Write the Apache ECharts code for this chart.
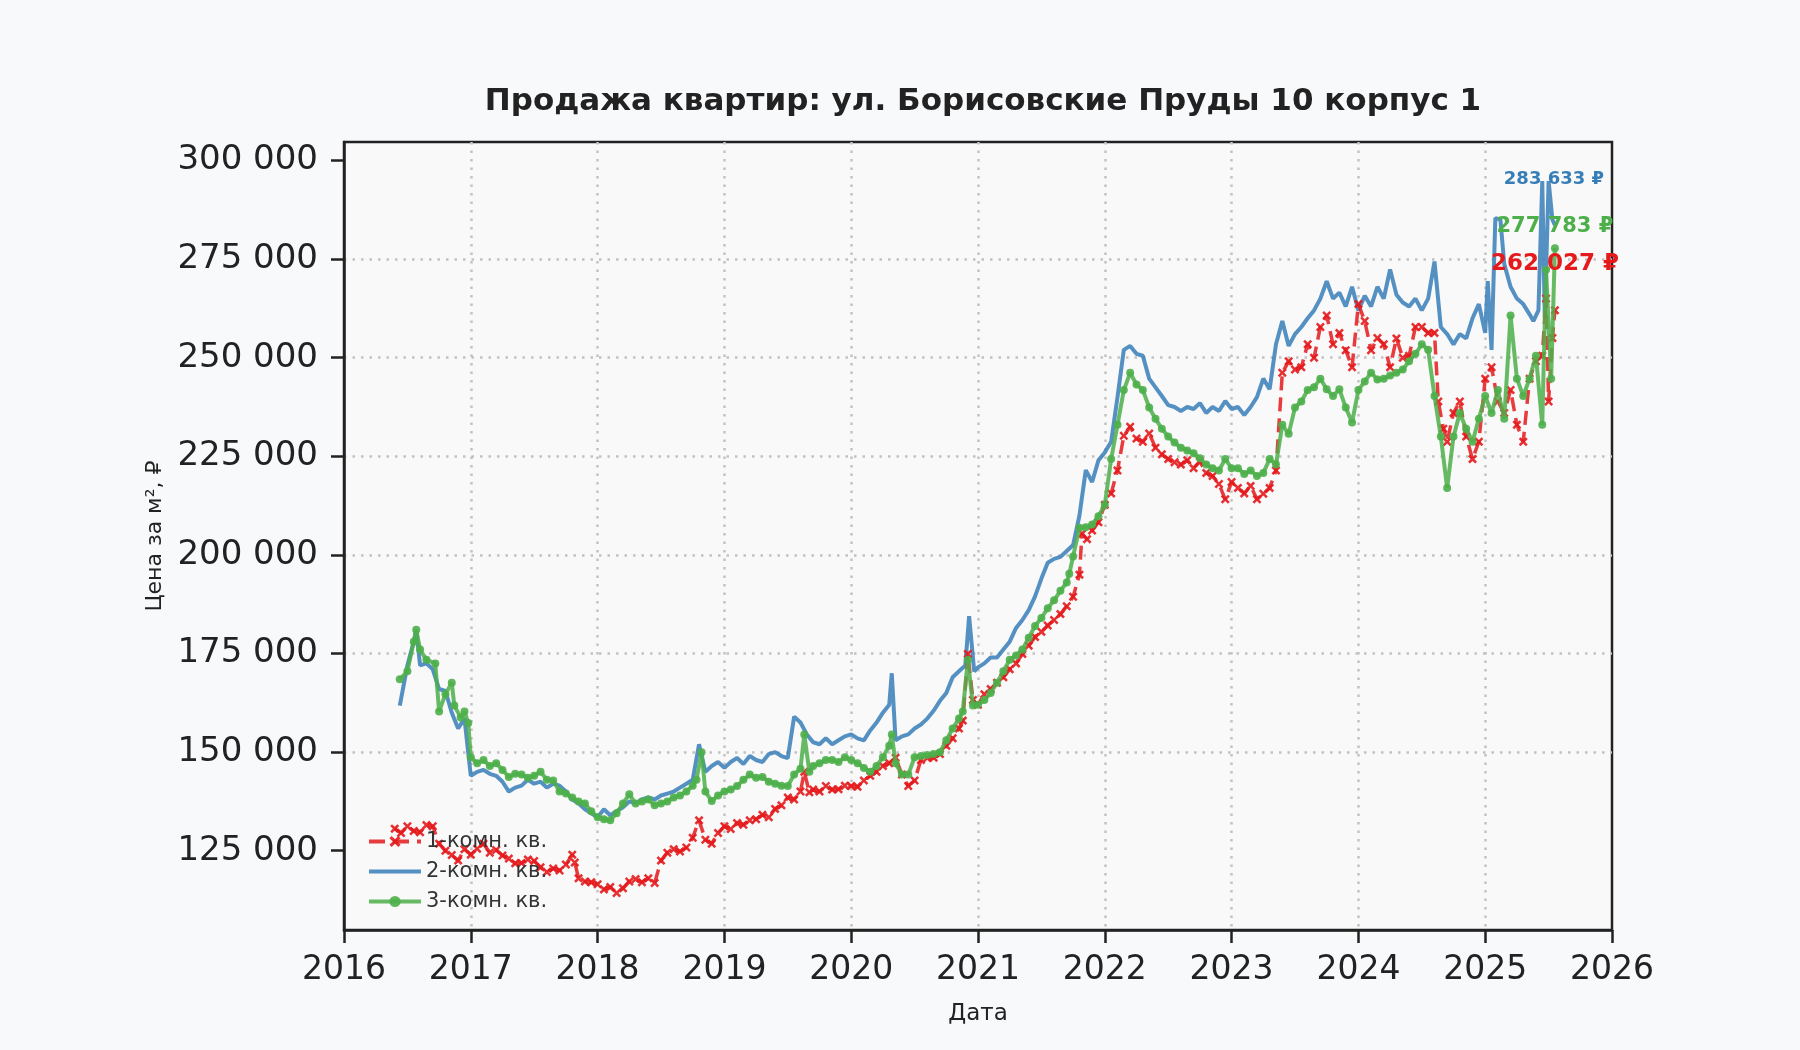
<!DOCTYPE html>
<html>
<head>
<meta charset="utf-8">
<script src="https://cdn.jsdelivr.net/npm/echarts@6/dist/echarts.min.js"></script>
<style>
  html, body { margin: 0; padding: 0; background: #f8f9fb; }
  #chart { width: 1800px; height: 1050px; }
</style>
</head>
<body>
<div id="chart"></div>
<script>
// [год, цена за м² в тыс. ₽]
const room1 = [
  [2016.40,130.6],[2016.45,129.5],[2016.50,131.2],[2016.55,130.0],[2016.60,129.7],[2016.65,131.5],[2016.70,131.2],
  [2016.75,126.8],[2016.80,125.0],[2016.85,123.9],[2016.90,122.5],[2016.95,125.4],[2017.00,124.0],[2017.05,125.5],
  [2017.10,126.8],[2017.15,124.5],[2017.20,125.2],[2017.25,123.8],[2017.30,123.0],[2017.35,121.8],[2017.40,121.9],
  [2017.45,122.8],[2017.50,122.4],[2017.55,120.8],[2017.60,119.6],[2017.65,120.5],[2017.70,120.0],[2017.75,121.5],
  [2017.80,124.0],[2017.82,122.0],[2017.85,118.0],[2017.90,117.2],[2017.95,117.0],[2018.00,116.5],[2018.05,115.2],
  [2018.10,115.8],[2018.15,114.3],[2018.20,115.5],[2018.25,117.2],[2018.30,117.8],[2018.35,117.0],[2018.40,118.0],
  [2018.45,116.8],[2018.50,122.5],[2018.55,124.5],[2018.60,125.4],[2018.65,124.8],[2018.70,125.8],[2018.75,128.3],
  [2018.80,132.7],[2018.85,127.8],[2018.90,126.8],[2018.95,129.5],[2019.00,131.2],[2019.05,130.5],[2019.10,132.0],
  [2019.15,131.6],[2019.20,132.7],[2019.25,133.0],[2019.30,134.1],[2019.35,133.5],[2019.40,135.6],[2019.45,136.5],
  [2019.50,138.5],[2019.55,138.0],[2019.60,140.0],[2019.63,145.0],[2019.67,139.8],[2019.70,140.5],[2019.75,140.0],
  [2019.80,141.4],[2019.85,140.5],[2019.90,140.6],[2019.95,141.5],[2020.00,141.4],[2020.05,141.2],[2020.10,142.8],
  [2020.15,144.0],[2020.20,145.0],[2020.25,146.5],[2020.30,147.2],[2020.35,148.6],[2020.40,144.3],[2020.45,141.4],
  [2020.50,142.8],[2020.55,148.0],[2020.60,148.5],[2020.65,148.6],[2020.70,149.5],[2020.75,151.6],[2020.80,153.5],
  [2020.85,156.0],[2020.88,158.0],[2020.92,174.9],[2020.96,163.2],[2021.00,162.0],[2021.05,164.7],[2021.10,166.0],
  [2021.15,167.6],[2021.20,169.0],[2021.25,171.0],[2021.30,172.5],[2021.35,174.9],[2021.40,177.0],[2021.45,179.2],
  [2021.50,180.5],[2021.55,182.1],[2021.60,183.5],[2021.65,185.0],[2021.70,187.0],[2021.75,189.4],[2021.80,195.0],
  [2021.82,205.4],[2021.86,204.0],[2021.90,206.2],[2021.95,208.3],[2022.00,212.7],[2022.05,215.6],[2022.10,221.4],
  [2022.15,230.2],[2022.20,232.5],[2022.25,229.5],[2022.30,228.7],[2022.35,230.8],[2022.40,227.2],[2022.45,225.5],
  [2022.50,224.3],[2022.55,223.5],[2022.60,222.9],[2022.65,224.0],[2022.70,222.0],[2022.75,223.7],[2022.80,220.8],
  [2022.85,220.0],[2022.90,218.0],[2022.95,214.1],[2023.00,218.5],[2023.05,217.0],[2023.10,215.6],[2023.15,217.5],
  [2023.20,214.1],[2023.25,215.5],[2023.30,217.0],[2023.35,221.4],[2023.40,246.2],[2023.45,249.1],[2023.50,247.0],
  [2023.55,247.6],[2023.60,253.4],[2023.65,250.0],[2023.70,257.8],[2023.75,260.7],[2023.80,253.4],[2023.85,256.3],
  [2023.90,251.9],[2023.95,247.6],[2024.00,263.6],[2024.05,259.3],[2024.10,251.9],[2024.15,255.0],[2024.20,253.4],
  [2024.25,247.6],[2024.30,254.9],[2024.35,250.0],[2024.40,250.5],[2024.45,257.8],[2024.50,257.8],[2024.55,256.3],
  [2024.60,256.3],[2024.63,238.9],[2024.67,232.0],[2024.70,228.7],[2024.75,236.0],[2024.80,238.9],[2024.85,230.0],
  [2024.90,224.3],[2024.95,228.7],[2025.00,244.7],[2025.05,247.6],[2025.10,238.9],[2025.15,236.0],[2025.20,241.8],
  [2025.25,233.0],[2025.30,228.7],[2025.35,244.7],[2025.40,249.1],[2025.45,250.5],[2025.48,265.0],[2025.50,238.9],
  [2025.53,255.0],[2025.55,262.027]
];

const room2 = [
  [2016.44,161.8],[2016.50,172.0],[2016.55,178.0],[2016.57,181.0],[2016.60,172.0],[2016.65,172.5],[2016.70,171.0],
  [2016.75,166.0],[2016.80,165.5],[2016.85,160.0],[2016.90,156.0],[2016.95,158.5],[2017.00,144.0],[2017.05,145.0],
  [2017.10,145.5],[2017.15,144.5],[2017.20,144.0],[2017.25,142.5],[2017.30,140.0],[2017.35,141.0],[2017.40,141.5],
  [2017.45,143.0],[2017.50,142.0],[2017.55,142.5],[2017.60,141.0],[2017.65,142.0],[2017.70,141.5],[2017.75,140.0],
  [2017.80,138.0],[2017.85,137.0],[2017.90,135.5],[2017.95,134.5],[2018.00,133.5],[2018.05,135.5],[2018.10,134.0],
  [2018.15,135.0],[2018.20,136.0],[2018.25,137.5],[2018.30,137.0],[2018.35,138.0],[2018.40,138.5],[2018.45,138.0],
  [2018.50,139.0],[2018.55,139.5],[2018.60,140.0],[2018.65,141.0],[2018.70,142.0],[2018.75,143.0],[2018.80,152.0],
  [2018.85,145.0],[2018.90,146.5],[2018.95,147.5],[2019.00,146.0],[2019.05,147.5],[2019.10,148.5],[2019.15,147.0],
  [2019.20,149.0],[2019.25,148.0],[2019.30,147.5],[2019.35,149.5],[2019.40,150.0],[2019.45,149.0],[2019.50,148.5],
  [2019.55,159.0],[2019.60,157.5],[2019.65,154.5],[2019.70,152.5],[2019.75,152.0],[2019.80,153.5],[2019.85,152.0],
  [2019.90,153.0],[2019.95,154.0],[2020.00,154.5],[2020.05,153.5],[2020.10,153.0],[2020.15,155.5],[2020.20,157.5],
  [2020.25,160.0],[2020.30,162.0],[2020.32,170.0],[2020.35,153.0],[2020.40,154.0],[2020.45,154.5],[2020.50,156.0],
  [2020.55,157.0],[2020.60,158.5],[2020.65,160.5],[2020.70,163.0],[2020.75,165.0],[2020.80,169.0],[2020.85,170.5],
  [2020.90,172.0],[2020.93,184.5],[2020.97,170.5],[2021.00,171.5],[2021.05,172.5],[2021.10,174.0],[2021.15,174.0],
  [2021.20,176.0],[2021.25,178.0],[2021.30,181.5],[2021.35,183.5],[2021.40,186.0],[2021.45,189.5],[2021.50,194.0],
  [2021.55,198.0],[2021.60,199.0],[2021.65,199.5],[2021.70,201.0],[2021.75,202.5],[2021.80,210.0],[2021.85,221.5],
  [2021.90,218.5],[2021.95,224.0],[2022.00,226.0],[2022.05,228.7],[2022.10,240.0],[2022.15,252.0],[2022.20,253.0],
  [2022.25,251.0],[2022.30,250.5],[2022.35,244.7],[2022.40,242.5],[2022.45,240.3],[2022.50,238.0],[2022.55,237.5],
  [2022.60,236.5],[2022.65,237.5],[2022.70,237.0],[2022.75,238.5],[2022.80,236.0],[2022.85,237.5],[2022.90,236.5],
  [2022.95,239.0],[2023.00,237.0],[2023.05,237.5],[2023.10,235.5],[2023.15,237.5],[2023.20,240.0],[2023.25,244.7],
  [2023.30,242.0],[2023.35,253.4],[2023.40,259.3],[2023.45,253.0],[2023.50,256.0],[2023.55,257.8],[2023.60,260.0],
  [2023.65,262.0],[2023.70,265.0],[2023.75,269.4],[2023.80,265.0],[2023.85,266.5],[2023.90,263.0],[2023.95,268.0],
  [2024.00,262.0],[2024.05,265.7],[2024.10,263.0],[2024.15,268.0],[2024.20,265.0],[2024.25,272.4],[2024.30,266.0],
  [2024.35,264.0],[2024.40,263.0],[2024.45,265.0],[2024.50,262.0],[2024.55,265.0],[2024.60,274.4],[2024.65,257.8],
  [2024.70,256.0],[2024.75,253.4],[2024.80,256.0],[2024.85,254.9],[2024.90,260.0],[2024.95,263.6],[2025.00,256.3],
  [2025.02,269.4],[2025.05,252.0],[2025.08,285.4],[2025.12,285.0],[2025.15,273.8],[2025.20,268.0],[2025.25,265.0],
  [2025.30,263.6],[2025.35,261.0],[2025.38,259.3],[2025.42,262.0],[2025.45,294.8],[2025.47,260.0],[2025.50,294.8],
  [2025.53,285.0],[2025.55,283.633]
];

const room3 = [
  [2016.44,168.5],[2016.50,170.5],[2016.55,178.0],[2016.57,181.0],[2016.60,176.0],[2016.65,173.4],[2016.72,172.5],
  [2016.75,160.3],[2016.80,164.7],[2016.85,167.6],[2016.87,161.8],[2016.92,158.8],[2016.95,160.3],[2016.98,157.4],
  [2017.00,148.7],[2017.05,147.2],[2017.10,148.0],[2017.15,146.5],[2017.20,147.2],[2017.25,145.5],[2017.30,143.7],
  [2017.35,144.5],[2017.40,144.3],[2017.45,143.5],[2017.50,144.0],[2017.55,145.0],[2017.60,143.0],[2017.65,142.8],
  [2017.70,140.0],[2017.75,139.5],[2017.80,138.5],[2017.85,137.5],[2017.90,137.0],[2017.95,135.0],[2018.00,133.5],
  [2018.05,133.0],[2018.10,132.7],[2018.15,134.5],[2018.20,137.0],[2018.25,139.3],[2018.30,137.0],[2018.35,137.5],
  [2018.40,138.0],[2018.45,136.5],[2018.50,137.0],[2018.55,137.5],[2018.60,138.5],[2018.65,139.0],[2018.70,140.0],
  [2018.75,141.5],[2018.78,143.0],[2018.82,150.0],[2018.85,140.0],[2018.90,137.6],[2018.95,139.0],[2019.00,140.0],
  [2019.05,140.5],[2019.10,141.4],[2019.15,143.0],[2019.20,144.3],[2019.25,143.5],[2019.30,143.7],[2019.35,142.5],
  [2019.40,142.0],[2019.45,141.5],[2019.50,141.4],[2019.55,144.3],[2019.60,145.8],[2019.63,154.5],[2019.67,145.0],
  [2019.70,146.5],[2019.75,147.2],[2019.80,148.0],[2019.85,148.0],[2019.90,147.5],[2019.95,148.7],[2020.00,148.0],
  [2020.05,147.2],[2020.10,146.0],[2020.15,145.0],[2020.20,146.5],[2020.25,148.7],[2020.30,151.6],[2020.32,154.5],
  [2020.35,147.2],[2020.40,144.3],[2020.45,144.3],[2020.50,148.7],[2020.55,149.0],[2020.60,149.3],[2020.65,149.5],
  [2020.70,150.0],[2020.75,153.0],[2020.80,156.0],[2020.85,158.5],[2020.88,160.3],[2020.92,173.4],[2020.96,161.8],
  [2021.00,162.0],[2021.05,163.2],[2021.10,165.0],[2021.15,167.6],[2021.20,170.5],[2021.25,173.4],[2021.30,174.5],
  [2021.35,176.0],[2021.40,179.0],[2021.45,182.0],[2021.50,184.0],[2021.55,186.5],[2021.60,188.5],[2021.65,190.9],
  [2021.70,193.0],[2021.72,195.2],[2021.75,199.6],[2021.80,206.9],[2021.85,207.0],[2021.90,207.7],[2021.95,209.8],
  [2022.00,212.7],[2022.05,224.3],[2022.10,233.0],[2022.15,241.8],[2022.20,246.2],[2022.25,243.2],[2022.30,241.8],
  [2022.35,237.4],[2022.40,234.5],[2022.45,232.0],[2022.50,230.0],[2022.55,228.5],[2022.60,227.2],[2022.65,226.5],
  [2022.70,225.8],[2022.75,224.5],[2022.80,222.9],[2022.85,222.0],[2022.90,221.4],[2022.95,224.3],[2023.00,222.0],
  [2023.05,222.0],[2023.10,220.5],[2023.15,221.4],[2023.20,220.0],[2023.25,220.8],[2023.30,224.3],[2023.35,222.9],
  [2023.40,233.0],[2023.45,230.7],[2023.50,237.4],[2023.55,238.9],[2023.60,241.8],[2023.65,242.5],[2023.70,244.7],
  [2023.75,242.0],[2023.80,240.3],[2023.85,242.0],[2023.90,237.4],[2023.95,233.6],[2024.00,241.8],[2024.05,244.0],
  [2024.10,246.2],[2024.15,244.5],[2024.20,244.7],[2024.25,245.5],[2024.30,246.2],[2024.35,247.0],[2024.40,249.1],
  [2024.45,251.0],[2024.50,253.4],[2024.55,252.0],[2024.60,240.3],[2024.65,230.0],[2024.70,217.0],[2024.75,230.0],
  [2024.80,236.0],[2024.85,232.0],[2024.90,228.7],[2024.95,234.5],[2025.00,240.3],[2025.05,236.0],[2025.10,241.8],
  [2025.15,234.5],[2025.20,260.7],[2025.25,244.7],[2025.30,240.3],[2025.35,244.7],[2025.40,250.5],[2025.45,233.0],
  [2025.48,272.3],[2025.52,244.7],[2025.55,277.783]
];

const seriesNames = ['1-комн. кв.', '2-комн. кв.', '3-комн. кв.'];
const yTicks = [125000, 150000, 175000, 200000, 225000, 250000, 275000, 300000];

const FONT = 'DejaVu Sans, sans-serif';
const INK = '#222222';
const colors = ['#e41a1c', '#377eb8', '#4daf4a'];

function fmtSpace(v) {
  return String(Math.round(v)).replace(/\B(?=(\d{3})+(?!\d))/g, ' ');
}

function toRub(rows) {
  return rows.map(r => [r[0], Math.round(r[1] * 1000)]);
}

const xMark = 'path://M2,0 L5,3 L8,0 L10,2 L7,5 L10,8 L8,10 L5,7 L2,10 L0,8 L3,5 L0,2 Z';

// last-value labels, nudged like in the original picture
function lastLabel(data, color, size, offset) {
  const last = data[data.length - 1];
  return {
    symbol: 'circle',
    symbolSize: 1,
    itemStyle: { color: 'rgba(0,0,0,0)' },
    silent: true,
    data: [{ coord: last, value: last[1] }],
    label: {
      show: true,
      position: 'inside',
      offset: offset,
      color: color,
      fontFamily: FONT,
      fontWeight: 'bold',
      fontSize: size,
      formatter: p => fmtSpace(p.value) + ' ₽'
    }
  };
}

const d1 = toRub(room1);
const d2 = toRub(room2);
const d3 = toRub(room3);

const gridLine = { show: true, showMinLine: false, showMaxLine: false, lineStyle: { color: '#c2c2c2', width: 2.5, type: [2.5, 6] } };

const chart = echarts.init(document.getElementById('chart'), null, { renderer: 'canvas' });

chart.setOption({
  animation: false,
  backgroundColor: '#f8f9fb',
  title: {
    text: 'Продажа квартир: ул. Борисовские Пруды 10 корпус 1',
    left: 978,
    textAlign: 'center',
    top: 81,
    textStyle: { fontFamily: FONT, fontWeight: 'bold', fontSize: 31, color: INK }
  },
  legend: {
    orient: 'vertical',
    left: 362,
    top: 826,
    itemWidth: 52,
    itemHeight: 14,
    itemGap: 9,
    lineStyle: { width: 4 },
    textStyle: { fontFamily: FONT, fontSize: 21, color: '#333333' },
    data: [
      { name: seriesNames[0] },
      { name: seriesNames[1], itemStyle: { opacity: 0 } },
      { name: seriesNames[2] }
    ]
  },
  grid: {
    left: 344,
    top: 142,
    width: 1268,
    height: 788,
    show: true,
    backgroundColor: '#f9f9f9',
    borderColor: INK,
    borderWidth: 2.5
  },
  xAxis: {
    type: 'value',
    min: 2016,
    max: 2026,
    interval: 1,
    name: 'Дата',
    nameLocation: 'middle',
    nameGap: 73,
    nameTextStyle: { fontFamily: FONT, fontSize: 23, color: INK },
    axisLine: { show: true, onZero: false, lineStyle: { color: INK, width: 2.5 } },
    axisTick: { show: true, length: 13, lineStyle: { color: INK, width: 2.5 } },
    axisLabel: { fontFamily: FONT, fontSize: 33, color: INK, margin: 24, formatter: v => String(v) },
    splitLine: gridLine
  },
  yAxis: {
    type: 'value',
    min: 104900,
    max: 304700,
    name: 'Цена за м², ₽',
    nameLocation: 'middle',
    nameGap: 178,
    nameTextStyle: { fontFamily: FONT, fontSize: 22, color: INK },
    axisLine: { show: true, onZero: false, lineStyle: { color: INK, width: 2.5 } },
    axisTick: { show: true, length: 13, customValues: yTicks, lineStyle: { color: INK, width: 2.5 } },
    axisLabel: { fontFamily: FONT, fontSize: 34, color: INK, margin: 26, customValues: yTicks, formatter: v => fmtSpace(v) },
    splitLine: gridLine
  },
  series: [
    {
      name: seriesNames[0],
      type: 'line',
      data: d1,
      z: 3,
      symbol: xMark,
      symbolSize: 9,
      showAllSymbol: true,
      itemStyle: { color: colors[0], opacity: 0.9 },
      lineStyle: { color: colors[0], width: 3.5, type: 'dashed', opacity: 0.85 },
      markPoint: lastLabel(d1, colors[0], 23, [0, -46])
    },
    {
      name: seriesNames[1],
      type: 'line',
      data: d2,
      z: 2,
      showSymbol: false,
      symbol: 'none',
      itemStyle: { color: colors[1] },
      lineStyle: { color: colors[1], width: 4, opacity: 0.85 },
      markPoint: lastLabel(d2, colors[1], 18, [-1, -46])
    },
    {
      name: seriesNames[2],
      type: 'line',
      data: d3,
      z: 4,
      symbol: 'circle',
      symbolSize: 8,
      showAllSymbol: true,
      itemStyle: { color: colors[2], opacity: 0.9 },
      lineStyle: { color: colors[2], width: 4, opacity: 0.85 },
      markPoint: lastLabel(d3, colors[2], 21, [0, -22])
    }
  ]
});
</script>
</body>
</html>
